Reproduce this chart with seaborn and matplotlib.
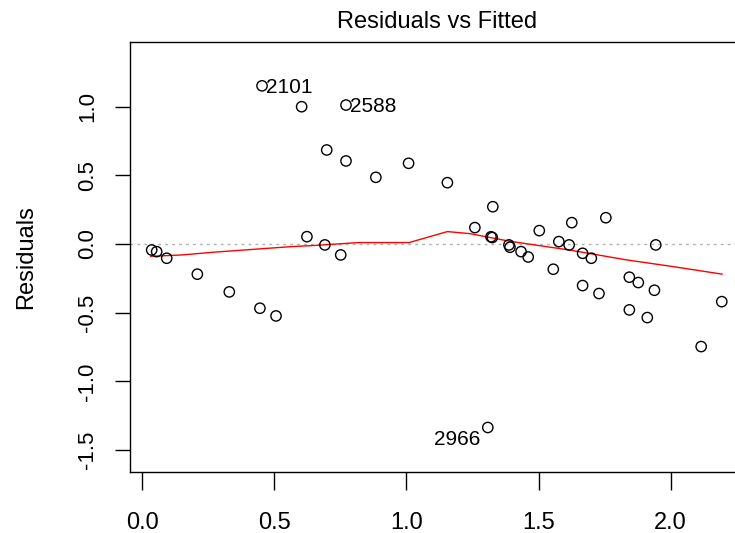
import matplotlib
matplotlib.use("Agg")
import matplotlib.pyplot as plt
import seaborn as sns
import pandas as pd

# fitted values and residuals
fitted = [0.035, 0.054, 0.092, 0.208, 0.329, 0.445, 0.506, 0.453, 0.603, 0.771,
          0.698, 0.771, 0.884, 1.008, 0.623, 0.691, 0.751, 1.155, 1.327, 1.259,
          1.320, 1.325, 1.388, 1.392, 1.434, 1.461, 1.503, 1.626, 1.577, 1.616,
          1.556, 1.755, 1.667, 1.700, 1.667, 1.729, 1.844, 1.878, 1.844, 1.912,
          1.939, 1.944, 2.116, 2.194, 1.308]
resid = [-0.044, -0.056, -0.104, -0.220, -0.349, -0.468, -0.524, 1.151, 0.999, 1.011,
         0.684, 0.604, 0.485, 0.587, 0.053, -0.007, -0.080, 0.446, 0.271, 0.119,
         0.052, 0.047, -0.007, -0.024, -0.056, -0.095, 0.097, 0.155, 0.017, -0.007,
         -0.184, 0.191, -0.068, -0.104, -0.303, -0.361, -0.242, -0.281, -0.480, -0.536,
         -0.337, -0.007, -0.747, -0.420, -1.336]

# smoother (red line)
smooth_x = [0.031, 0.15, 0.27, 0.56, 0.66, 0.82, 1.01, 1.155, 1.24, 1.39, 1.62, 1.83, 2.01, 2.196]
smooth_y = [-0.09, -0.08, -0.06, -0.02, -0.01, 0.01, 0.01, 0.09, 0.075, 0.02, -0.045, -0.115, -0.165, -0.22]

# labelled observations: index into the arrays above
label_idx = [7, 9, 44]
label_text = ["2101", "2588", "2966"]
label_side = ["right", "right", "left"]

x_ticks = [0.0, 0.5, 1.0, 1.5, 2.0]
y_ticks = [-1.5, -1.0, -0.5, 0.0, 0.5, 1.0]

sns.set_style("white")
plt.rcParams["font.family"] = ["Liberation Sans", "DejaVu Sans"]
plt.rcParams["text.color"] = "black"
plt.rcParams["axes.labelcolor"] = "black"
plt.rcParams["xtick.color"] = "black"
plt.rcParams["ytick.color"] = "black"

df = pd.DataFrame({"fitted": fitted, "resid": resid})
sm = pd.DataFrame({"x": smooth_x, "y": smooth_y})

fig = plt.figure(figsize=(7.35, 5.33), dpi=100)
ax = fig.add_axes([130 / 735, 1 - 472 / 533, 615 / 735, 430 / 533])

ax.axhline(0, color="#b0b0b0", lw=1.0, ls=(0, (2, 3)), zorder=1)
sns.lineplot(data=sm, x="x", y="y", ax=ax, color="red", lw=1.0,
             estimator=None, sort=False, zorder=2)
sns.scatterplot(data=df, x="fitted", y="resid", ax=ax, marker="o", s=55,
                facecolor="none", edgecolor="black", linewidth=1.0, zorder=3)

for i, t, side in zip(label_idx, label_text, label_side):
    if side == "right":
        ax.annotate(t, (fitted[i], resid[i]), xytext=(3, -1), textcoords="offset points",
                    ha="left", va="center", fontsize=15)
    else:
        ax.annotate(t, (fitted[i], resid[i]), xytext=(-5, -9), textcoords="offset points",
                    ha="right", va="center", fontsize=15)

ax.set_xlim(-0.047, 2.282)
ax.set_ylim(-1.66, 1.47)
ax.set_xticks(x_ticks)
ax.set_xticklabels([f"{v:.1f}" for v in x_ticks])
ax.set_yticks(y_ticks)
ax.set_yticklabels([f"{v:.1f}" for v in y_ticks], rotation=90, va="center")
ax.tick_params(axis="x", direction="out", length=13, width=1, pad=16, labelsize=17, bottom=True)
ax.tick_params(axis="y", direction="out", length=11, width=1, pad=12, labelsize=16, left=True)
ax.set_xlabel("")
ax.set_ylabel("Residuals", fontsize=17, labelpad=29)
ax.set_title("Residuals vs Fitted", fontsize=17, pad=10)

for sp in ax.spines.values():
    sp.set_color("black")
    sp.set_linewidth(1.0)

fig.savefig("out.png", dpi=100)
